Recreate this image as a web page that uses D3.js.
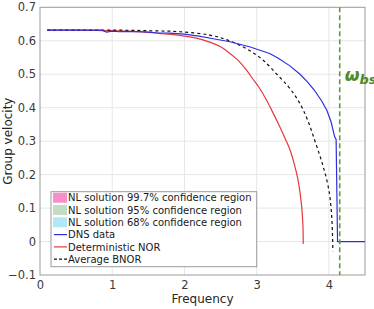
<!DOCTYPE html>
<html lang="en">
<head>
<meta charset="utf-8">
<title>Group velocity</title>
<script src="https://d3js.org/d3.v7.min.js"></script>
<style>
  body { margin: 0; background: #fff; }
  text { font-family: "DejaVu Sans", sans-serif; }
</style>
</head>
<body>
<script>
// chart size
var w = 374, h = 309;
var margin = {top: 7.3, right: 9, bottom: 34, left: 40};

// DNS data (blue)
var dnsFreq = [0.1, 0.5, 0.85, 0.92, 1.0, 1.1, 1.2, 1.3, 1.4, 1.5, 1.6, 1.8, 2.0, 2.2, 2.4, 2.63, 2.9, 3.18, 3.3, 3.46, 3.6, 3.7, 3.8, 3.9, 3.97, 4.03, 4.08, 4.10, 4.12, 4.5];
var dnsVel  = [0.632, 0.632, 0.632, 0.626, 0.629, 0.627, 0.628, 0.627, 0.627, 0.626, 0.624, 0.623, 0.620, 0.614, 0.606, 0.597, 0.582, 0.562, 0.548, 0.525, 0.500, 0.478, 0.452, 0.420, 0.393, 0.358, 0.313, 0.305, 0.0, 0.0];

// Deterministic NOR (red)
var norFreq = [0.1, 0.5, 1.0, 1.5, 1.7, 1.94, 2.12, 2.35, 2.5, 2.63, 2.75, 2.86, 2.95, 3.04, 3.13, 3.23, 3.32, 3.40, 3.46, 3.52, 3.57, 3.60, 3.625, 3.64, 3.645];
var norVel  = [0.632, 0.632, 0.630, 0.625, 0.621, 0.616, 0.610, 0.596, 0.582, 0.562, 0.540, 0.512, 0.485, 0.458, 0.425, 0.383, 0.343, 0.305, 0.275, 0.232, 0.187, 0.147, 0.100, 0.050, -0.007];

// Average BNOR (black dashed)
var bnorFreq = [0.1, 0.5, 1.0, 1.5, 1.94, 2.35, 2.6, 2.81, 2.95, 3.09, 3.27, 3.43, 3.55, 3.64, 3.72, 3.80, 3.87, 3.92, 3.97, 4.01, 4.03, 4.045, 4.055];
var bnorVel  = [0.632, 0.632, 0.632, 0.630, 0.627, 0.617, 0.602, 0.582, 0.564, 0.542, 0.502, 0.465, 0.430, 0.395, 0.355, 0.305, 0.260, 0.225, 0.185, 0.140, 0.100, 0.050, -0.030];

var omegaBs = 4.15;

var xTicks = [0, 1, 2, 3, 4];
var yTicks = [-0.1, 0, 0.1, 0.2, 0.3, 0.4, 0.5, 0.6, 0.7];

var legendLabels = ["NL solution 99.7% confidence region", "NL solution 95% confidence region",
                    "NL solution 68% confidence region", "DNS data", "Deterministic NOR", "Average BNOR"];

var svg = d3.select("body").append("svg")
    .attr("width", w).attr("height", h);

var x = d3.scaleLinear().domain([0, 4.5]).range([margin.left, w - margin.right]);
var y = d3.scaleLinear().domain([-0.1, 0.7]).range([h - margin.bottom, margin.top]);

// grid
svg.append("g").selectAll("line").data(xTicks.slice(1)).enter().append("line")
  .attr("x1", d => x(d)).attr("x2", d => x(d))
  .attr("y1", y(0.7)).attr("y2", y(-0.1))
  .attr("stroke", "#e6e6e6").attr("stroke-width", 1);
svg.append("g").selectAll("line").data(yTicks.slice(1, -1)).enter().append("line")
  .attr("x1", x(0)).attr("x2", x(4.5))
  .attr("y1", d => y(d)).attr("y2", d => y(d))
  .attr("stroke", "#e6e6e6").attr("stroke-width", 1);

// axes
var xAxis = d3.axisBottom(x).tickValues(xTicks).tickSize(0).tickPadding(6).tickFormat(d3.format("d"));
svg.append("g").attr("transform", `translate(0,${y(-0.1)})`).call(xAxis)
  .call(g => g.select(".domain").remove())
  .selectAll("text").attr("font-size", "11.5px").attr("fill", "#3a3a3a").attr("font-family", "DejaVu Sans");

var yAxis = d3.axisLeft(y).tickValues(yTicks).tickSize(0).tickPadding(4)
  .tickFormat(d => Math.abs(d) < 1e-9 ? "0" : d3.format(".1f")(d));
svg.append("g").attr("transform", `translate(${x(0)},0)`).call(yAxis)
  .call(g => g.select(".domain").remove())
  .selectAll("text").attr("font-size", "11.5px").attr("fill", "#3a3a3a").attr("font-family", "DejaVu Sans");

// box
svg.append("rect")
  .attr("x", x(0)).attr("y", y(0.7))
  .attr("width", x(4.5) - x(0)).attr("height", y(-0.1) - y(0.7))
  .attr("fill", "none").attr("stroke", "#9a9a9a").attr("stroke-width", 1);

// axis labels
svg.append("text").attr("x", (x(0) + x(4.5)) / 2).attr("y", 303)
  .attr("text-anchor", "middle").attr("font-size", "12px").attr("fill", "#262626")
  .text("Frequency");
svg.append("text")
  .attr("transform", `translate(11.5,${(y(0.7) + y(-0.1)) / 2}) rotate(-90)`)
  .attr("text-anchor", "middle").attr("font-size", "12px").attr("fill", "#262626")
  .text("Group velocity");

// curves
function zip(fs, vs) { return fs.map((f, i) => [f, vs[i]]); }
var line = d3.line().x(d => x(d[0])).y(d => y(d[1]));
var smooth = d3.line().x(d => x(d[0])).y(d => y(d[1])).curve(d3.curveCatmullRom.alpha(0.5));

svg.append("path").datum(zip(norFreq, norVel)).attr("d", smooth)
  .attr("fill", "none").attr("stroke", "#e5383b").attr("stroke-width", 1.2);
svg.append("path").datum(zip(bnorFreq, bnorVel)).attr("d", smooth)
  .attr("fill", "none").attr("stroke", "#111").attr("stroke-width", 1.2).attr("stroke-dasharray", "3,3");
svg.append("path").datum(zip(dnsFreq, dnsVel)).attr("d", line)
  .attr("fill", "none").attr("stroke", "#2e2ee0").attr("stroke-width", 1.2);

// omega_bs line
svg.append("line")
  .attr("x1", x(omegaBs)).attr("x2", x(omegaBs))
  .attr("y1", y(0.7)).attr("y2", y(-0.1))
  .attr("stroke", "#5f9a35").attr("stroke-width", 1.6).attr("stroke-dasharray", "5,3");

var lbl = svg.append("text").attr("x", x(omegaBs) + 5).attr("y", 81)
  .attr("fill", "#4f8a28").attr("font-family", "Liberation Serif, DejaVu Serif, serif")
  .attr("font-weight", "bold").attr("font-style", "italic").attr("font-size", "17px");
lbl.append("tspan").text("\u03c9");
lbl.append("tspan").attr("dy", 3).attr("font-size", "13px").text("bs");

// legend
var lx = 51, ly = 191.7, lw = 205.7, lh = 75, rowH = 12.3;
var lg = svg.append("g");
lg.append("rect").attr("x", lx).attr("y", ly).attr("width", lw).attr("height", lh)
  .attr("fill", "#fff").attr("stroke", "#9a9a9a").attr("stroke-width", 1);

var patchColors = ["#f78fc8", "#c3dcc3", "#b0e8f8"];
var rows = lg.selectAll("g.row").data(legendLabels).enter().append("g")
  .attr("transform", (d, i) => `translate(${lx},${ly + 6 + i * rowH})`);

rows.filter((d, i) => i < 3).append("rect")
  .attr("x", 2).attr("y", -5).attr("width", 14).attr("height", 10)
  .attr("fill", (d, i) => patchColors[i]);
rows.filter((d, i) => i === 3).append("line")
  .attr("x1", 3).attr("x2", 16).attr("y1", 0).attr("y2", 0)
  .attr("stroke", "#2e2ee0").attr("stroke-width", 1.2);
rows.filter((d, i) => i === 4).append("line")
  .attr("x1", 3).attr("x2", 16).attr("y1", 0).attr("y2", 0)
  .attr("stroke", "#e5383b").attr("stroke-width", 1.2);
rows.filter((d, i) => i === 5).append("line")
  .attr("x1", 3).attr("x2", 16).attr("y1", 0).attr("y2", 0)
  .attr("stroke", "#111").attr("stroke-width", 1.2).attr("stroke-dasharray", "3,2");

rows.append("text").attr("x", 17).attr("y", 3.6)
  .attr("font-size", "10px").attr("fill", "#1a1a1a")
  .text(d => d);
</script>
</body>
</html>
